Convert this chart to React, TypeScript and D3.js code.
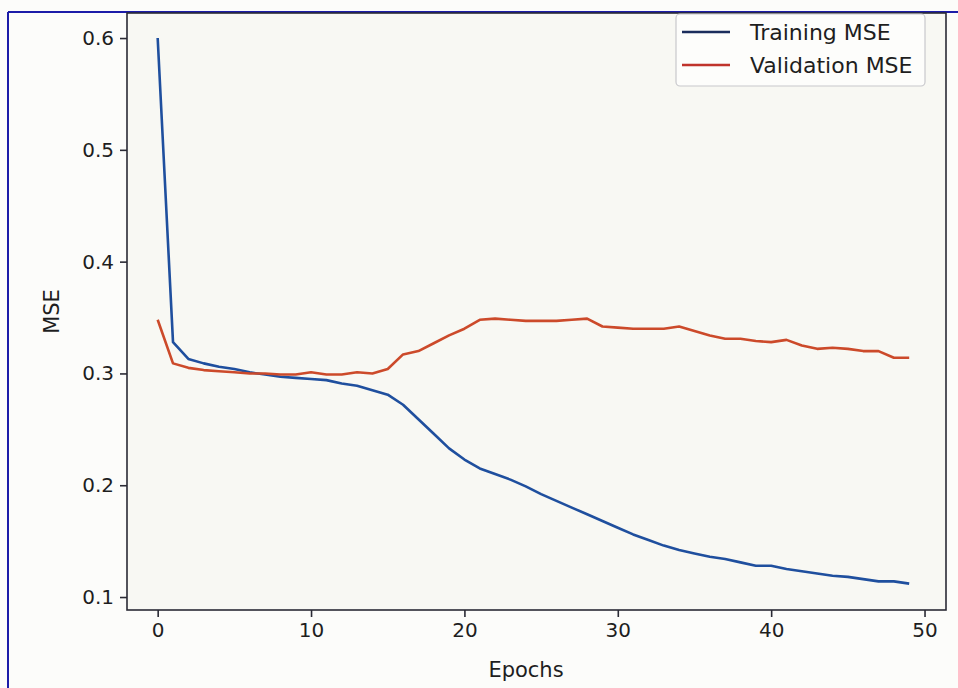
import { useRef, useEffect } from "react";
import * as d3 from "d3";

const EPOCHS = d3.range(0, 50);

const TRAINING_MSE = [
  0.600, 0.328, 0.313, 0.309, 0.306, 0.304, 0.301, 0.299, 0.297, 0.296,
  0.295, 0.294, 0.291, 0.289, 0.285, 0.281, 0.272, 0.259, 0.246, 0.233,
  0.223, 0.215, 0.210, 0.205, 0.199, 0.192, 0.186, 0.180, 0.174, 0.168,
  0.162, 0.156, 0.151, 0.146, 0.142, 0.139, 0.136, 0.134, 0.131, 0.128,
  0.128, 0.125, 0.123, 0.121, 0.119, 0.118, 0.116, 0.114, 0.114, 0.112,
];

const VALIDATION_MSE = [
  0.348, 0.309, 0.305, 0.303, 0.302, 0.301, 0.300, 0.300, 0.299, 0.299,
  0.301, 0.299, 0.299, 0.301, 0.300, 0.304, 0.317, 0.320, 0.327, 0.334,
  0.340, 0.348, 0.349, 0.348, 0.347, 0.347, 0.347, 0.348, 0.349, 0.342,
  0.341, 0.340, 0.340, 0.340, 0.342, 0.338, 0.334, 0.331, 0.331, 0.329,
  0.328, 0.330, 0.325, 0.322, 0.323, 0.322, 0.320, 0.320, 0.314, 0.314,
];

const X_TICKS = [0, 10, 20, 30, 40, 50];
const Y_TICKS = [0.1, 0.2, 0.3, 0.4, 0.5, 0.6];

const SERIES = [
  { name: "Training MSE", values: TRAINING_MSE, color: "#1f4f9e", legendColor: "#1b2d5c" },
  { name: "Validation MSE", values: VALIDATION_MSE, color: "#cc4a2a", legendColor: "#c0332b" },
];

const WIDTH = 958;
const HEIGHT = 688;
const FONT = "DejaVu Sans, Liberation Sans, sans-serif";

export default function App() {
  const svgRef = useRef<SVGSVGElement>(null);

  useEffect(() => {
    document.body.style.margin = "0";
    if (!svgRef.current) return;

    const svg = d3.select(svgRef.current);
    svg.selectAll("*").remove();

    const box = { left: 127, right: 946, top: 13, bottom: 610 };

    const x = d3.scaleLinear().domain([-2.0, 51.4]).range([box.left, box.right]);
    const y = d3.scaleLinear().domain([0.0884, 0.6224]).range([box.bottom, box.top]);

    // paper background
    svg.append("rect").attr("width", WIDTH).attr("height", HEIGHT).attr("fill", "#fcfcfa");
    svg
      .append("rect")
      .attr("x", box.left)
      .attr("y", box.top)
      .attr("width", box.right - box.left)
      .attr("height", box.bottom - box.top)
      .attr("fill", "#f8f8f3");

    // screenshot frame
    svg.append("line").attr("x1", 8).attr("x2", WIDTH).attr("y1", 12).attr("y2", 12)
      .attr("stroke", "#1c1ca8").attr("stroke-width", 2);
    svg.append("line").attr("x1", 8).attr("x2", 8).attr("y1", 12).attr("y2", HEIGHT)
      .attr("stroke", "#1c1ca8").attr("stroke-width", 2);

    const line = d3
      .line<number>()
      .x((_, i) => x(EPOCHS[i]))
      .y((d) => y(d));

    SERIES.forEach((s) => {
      svg
        .append("path")
        .datum(s.values)
        .attr("fill", "none")
        .attr("stroke", s.color)
        .attr("stroke-width", 2.6)
        .attr("stroke-linejoin", "round")
        .attr("d", line);
    });

    // spines
    svg
      .append("rect")
      .attr("x", box.left)
      .attr("y", box.top)
      .attr("width", box.right - box.left)
      .attr("height", box.bottom - box.top)
      .attr("fill", "none")
      .attr("stroke", "#2a2a35")
      .attr("stroke-width", 1.6);

    // X axis
    const xAxis = svg
      .append("g")
      .attr("transform", `translate(0,${box.bottom})`)
      .call(d3.axisBottom(x).tickValues(X_TICKS).tickSize(7).tickPadding(6).tickFormat(d3.format("d")));
    xAxis.select(".domain").remove();
    xAxis.selectAll("line").attr("stroke", "#2a2a35").attr("stroke-width", 1.6);
    xAxis.selectAll("text").attr("fill", "#1e1e1e").style("font-size", "20px").style("font-family", FONT);

    // Y axis
    const yAxis = svg
      .append("g")
      .attr("transform", `translate(${box.left},0)`)
      .call(d3.axisLeft(y).tickValues(Y_TICKS).tickSize(7).tickPadding(6).tickFormat(d3.format(".1f")));
    yAxis.select(".domain").remove();
    yAxis.selectAll("line").attr("stroke", "#2a2a35").attr("stroke-width", 1.6);
    yAxis.selectAll("text").attr("fill", "#1e1e1e").style("font-size", "20px").style("font-family", FONT);

    // axis labels
    svg
      .append("text")
      .attr("x", 526)
      .attr("y", 677)
      .attr("text-anchor", "middle")
      .attr("fill", "#1e1e1e")
      .style("font-size", "21px")
      .style("font-family", FONT)
      .text("Epochs");

    svg
      .append("text")
      .attr("transform", `translate(59,${(box.top + box.bottom) / 2}) rotate(-90)`)
      .attr("text-anchor", "middle")
      .attr("fill", "#1e1e1e")
      .style("font-size", "21px")
      .style("font-family", FONT)
      .text("MSE");

    // legend
    const legend = svg.append("g");
    legend
      .append("rect")
      .attr("x", 676)
      .attr("y", 14)
      .attr("width", 249)
      .attr("height", 72)
      .attr("rx", 4)
      .attr("fill", "#fdfdfb")
      .attr("stroke", "#c8c8cc")
      .attr("stroke-width", 1.2);

    SERIES.forEach((s, i) => {
      const ly = 32 + i * 33;
      legend
        .append("line")
        .attr("x1", 682)
        .attr("x2", 730)
        .attr("y1", ly)
        .attr("y2", ly)
        .attr("stroke", s.legendColor)
        .attr("stroke-width", 2.6);
      legend
        .append("text")
        .attr("x", 750)
        .attr("y", ly)
        .attr("dominant-baseline", "central")
        .attr("fill", "#1e1e1e")
        .style("font-size", "22px")
        .style("font-family", FONT)
        .text(s.name);
    });
  }, []);

  return <svg ref={svgRef} width={WIDTH} height={HEIGHT} style={{ display: "block" }} />;
}
